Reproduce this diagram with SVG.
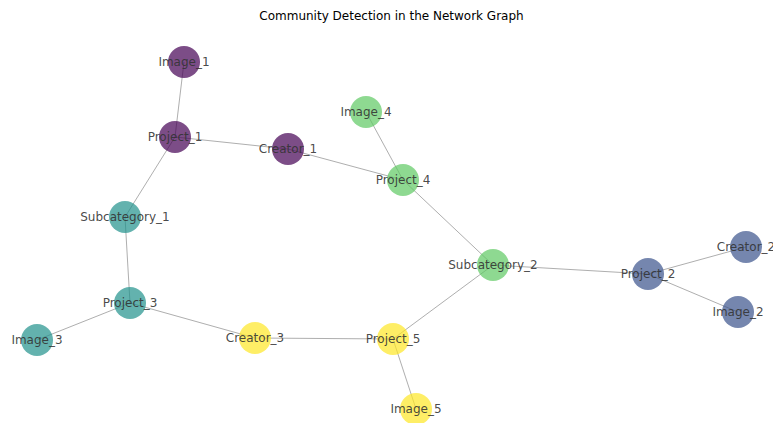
<svg xmlns="http://www.w3.org/2000/svg" width="773" height="423" viewBox="0 0 773 423">
  <style>
    .edge { stroke: #9a9a9a; stroke-width: 1; stroke-opacity: 0.8; fill: none; }
    .node circle { r: 16; fill-opacity: 0.7; stroke: none; }
    .c0 circle { fill: #440154; }
    .c1 circle { fill: #3b528b; }
    .c2 circle { fill: #21918c; }
    .c3 circle { fill: #5ec962; }
    .c4 circle { fill: #fde725; }
    .node text { font-family: "DejaVu Sans", sans-serif; font-size: 12px; fill: #333333; fill-opacity: 0.9; text-anchor: middle; dominant-baseline: central; }
    .title { font-family: "DejaVu Sans", sans-serif; font-size: 12px; fill: #000000; text-anchor: middle; }
  </style>
  <rect width="773" height="423" fill="#ffffff"/>
  <text class="title" x="391.5" y="20">Community Detection in the Network Graph</text>

  <g id="edges">
    <line class="edge" x1="184" y1="62" x2="175" y2="137"/>
    <line class="edge" x1="175" y1="137" x2="288" y2="149"/>
    <line class="edge" x1="175" y1="137" x2="125" y2="217"/>
    <line class="edge" x1="288" y1="149" x2="403" y2="180"/>
    <line class="edge" x1="366" y1="112" x2="403" y2="180"/>
    <line class="edge" x1="403" y1="180" x2="493" y2="265"/>
    <line class="edge" x1="125" y1="217" x2="130" y2="303"/>
    <line class="edge" x1="130" y1="303" x2="37" y2="340"/>
    <line class="edge" x1="130" y1="303" x2="255" y2="338"/>
    <line class="edge" x1="255" y1="338" x2="393" y2="339"/>
    <line class="edge" x1="393" y1="339" x2="416" y2="409"/>
    <line class="edge" x1="393" y1="339" x2="493" y2="265"/>
    <line class="edge" x1="493" y1="265" x2="648" y2="274"/>
    <line class="edge" x1="648" y1="274" x2="746" y2="247"/>
    <line class="edge" x1="648" y1="274" x2="738" y2="312"/>
  </g>

  <g id="Image_1" class="node c0"><circle cx="184" cy="62"/><text x="184" y="62">Image_1</text></g>
  <g id="Project_1" class="node c0"><circle cx="175" cy="137"/><text x="175" y="137">Project_1</text></g>
  <g id="Creator_1" class="node c0"><circle cx="288" cy="149"/><text x="288" y="149">Creator_1</text></g>
  <g id="Image_4" class="node c3"><circle cx="366" cy="112"/><text x="366" y="112">Image_4</text></g>
  <g id="Project_4" class="node c3"><circle cx="403" cy="180"/><text x="403" y="180">Project_4</text></g>
  <g id="Subcategory_2" class="node c3"><circle cx="493" cy="265"/><text x="493" y="265">Subcategory_2</text></g>
  <g id="Subcategory_1" class="node c2"><circle cx="125" cy="217"/><text x="125" y="217">Subcategory_1</text></g>
  <g id="Project_3" class="node c2"><circle cx="130" cy="303"/><text x="130" y="303">Project_3</text></g>
  <g id="Image_3" class="node c2"><circle cx="37" cy="340"/><text x="37" y="340">Image_3</text></g>
  <g id="Creator_3" class="node c4"><circle cx="255" cy="338"/><text x="255" y="338">Creator_3</text></g>
  <g id="Project_5" class="node c4"><circle cx="393" cy="339"/><text x="393" y="339">Project_5</text></g>
  <g id="Image_5" class="node c4"><circle cx="416" cy="409"/><text x="416" y="409">Image_5</text></g>
  <g id="Project_2" class="node c1"><circle cx="648" cy="274"/><text x="648" y="274">Project_2</text></g>
  <g id="Creator_2" class="node c1"><circle cx="746" cy="247"/><text x="746" y="247">Creator_2</text></g>
  <g id="Image_2" class="node c1"><circle cx="738" cy="312"/><text x="738" y="312">Image_2</text></g>
</svg>
